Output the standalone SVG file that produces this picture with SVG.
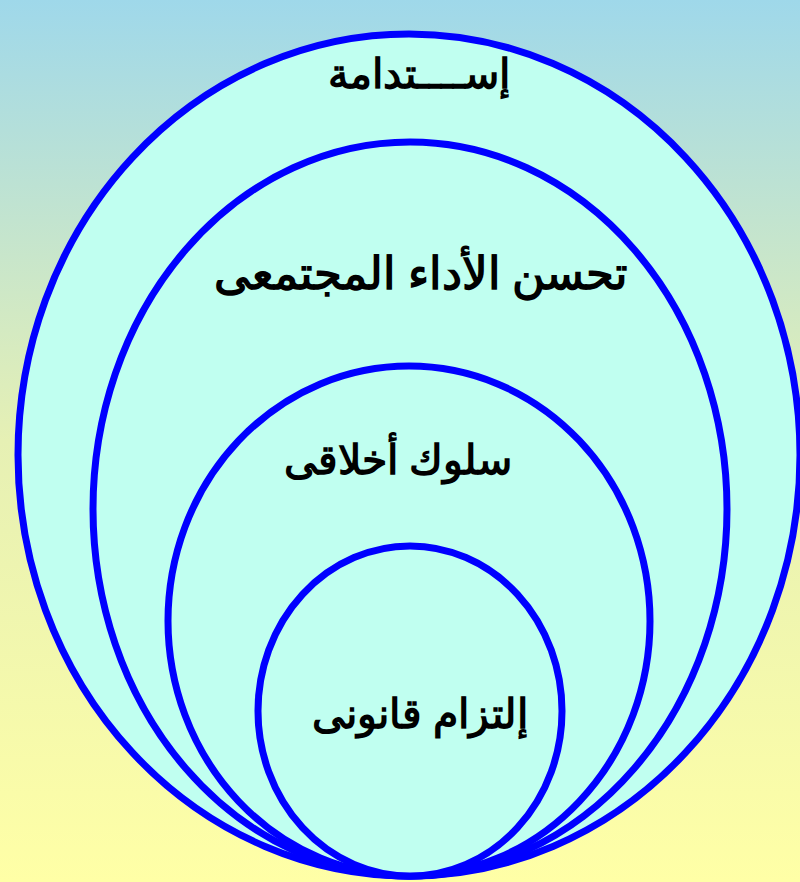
<svg xmlns="http://www.w3.org/2000/svg" width="800" height="882" viewBox="0 0 800 882">
<defs>
<linearGradient id="bg" x1="0" y1="0" x2="0" y2="1">
<stop offset="0" stop-color="#9fd8ea"/>
<stop offset="0.5" stop-color="#e6f0b4"/>
<stop offset="1" stop-color="#ffffa6"/>
</linearGradient>
<style>
.ring{fill:#c0fff0;stroke:#0000ff;stroke-width:7}
.lbl{font-family:"Liberation Serif","DejaVu Serif",serif;font-weight:bold;font-size:41px;fill:#000;text-anchor:middle}
</style>
</defs>
<rect width="800" height="882" fill="url(#bg)"/>
<g id="n1"><ellipse class="ring" cx="409" cy="455" rx="391" ry="421"/><text class="lbl" x="419" y="88" direction="rtl">إســــتدامة</text></g>
<g id="n2"><ellipse class="ring" cx="410" cy="509" rx="317" ry="367"/><text class="lbl" x="421" y="289" direction="rtl" style="font-size:45px">تحسن الأداء المجتمعى</text></g>
<g id="n3"><ellipse class="ring" cx="409" cy="621" rx="241" ry="255"/><text class="lbl" x="398" y="474" direction="rtl">سلوك أخلاقى</text></g>
<g id="n4"><ellipse class="ring" cx="410" cy="711" rx="152" ry="165"/><text class="lbl" x="420" y="728" direction="rtl">إلتزام قانونى</text></g>
<g id="connectors"/>
</svg>
